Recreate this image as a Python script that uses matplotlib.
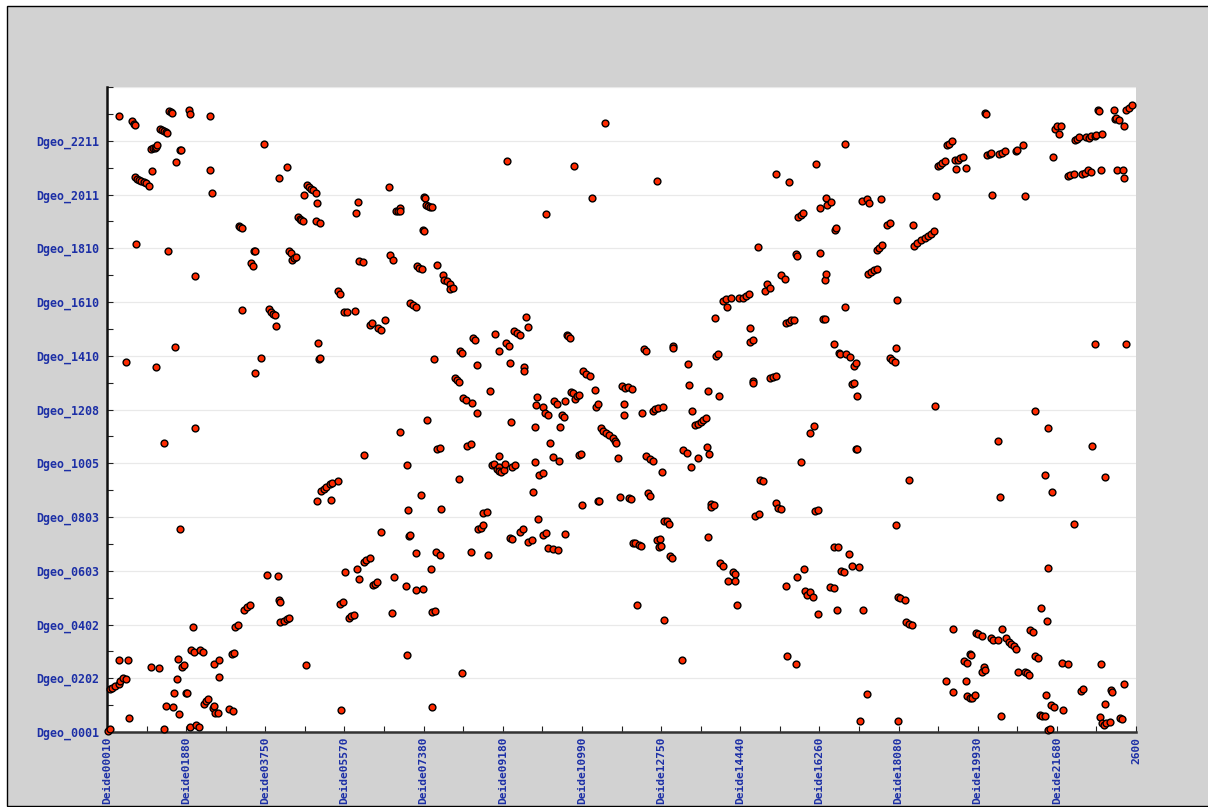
import numpy as np
import matplotlib
matplotlib.use('Agg')
import matplotlib.pyplot as plt
from matplotlib.patches import Rectangle

# gene rank on each axis
hits_top_left = [
    (12, 616), (25, 611), (27, 608), (28, 607), (62, 621), (64, 620), (65, 619), (82, 622), (83, 618), (103, 616),
    (53, 603), (55, 602), (57, 601), (59, 600), (60, 599), (44, 583), (46, 584), (48, 584), (49, 585), (50, 587),
    (73, 582), (74, 582), (69, 570), (45, 561), (103, 562), (28, 555), (30, 553), (32, 552), (34, 551), (37, 550),
    (39, 549), (42, 546), (105, 539), (157, 588), (180, 565), (172, 554), (200, 547), (202, 545), (204, 543),
    (206, 542), (209, 539), (197, 537), (210, 529), (191, 515), (193, 513), (194, 512), (196, 511), (209, 511),
    (213, 509), (132, 506), (133, 505), (135, 504), (147, 481), (148, 481), (144, 469), (146, 466), (182, 481),
    (184, 479), (185, 472), (187, 474), (189, 475), (29, 488), (61, 481), (88, 456), (231, 441), (233, 438),
    (251, 530), (249, 519), (282, 545), (289, 521), (291, 521), (293, 524), (293, 521), (317, 535), (318, 534),
    (319, 527), (321, 526), (323, 525), (325, 525), (316, 502), (317, 501), (330, 467), (283, 477), (286, 472),
    (252, 471), (256, 470), (310, 466), (312, 464), (315, 463), (336, 457), (337, 452), (340, 451), (343, 448),
    (343, 443), (303, 429), (306, 427), (309, 425),
]
hits_top_middle = [
    (346, 444), (498, 609), (400, 571), (467, 566), (550, 551), (485, 534), (439, 518), (669, 558), (682, 550),
    (651, 485), (674, 457), (678, 453), (660, 448), (658, 441), (663, 444), (642, 438), (639, 436), (636, 434),
    (632, 434), (624, 434), (619, 433), (616, 431),
]
hits_top_right = [
    (878, 619), (879, 618), (991, 622), (992, 621), (1007, 622), (1019, 622), (1022, 624), (1025, 627), (1008, 613),
    (1009, 614), (1012, 612), (1017, 606), (948, 603), (950, 606), (954, 606), (952, 598), (968, 592), (970, 593),
    (972, 595), (979, 595), (982, 594), (984, 596), (988, 596), (989, 597), (995, 598), (840, 587), (842, 588),
    (845, 591), (738, 588), (709, 568), (831, 566), (833, 567), (835, 569), (838, 571), (848, 572), (851, 572),
    (853, 574), (856, 575), (849, 563), (859, 564), (880, 577), (883, 578), (884, 579), (892, 578), (895, 579),
    (898, 581), (909, 581), (910, 582), (916, 587), (946, 575), (961, 556), (963, 557), (967, 558), (975, 558),
    (978, 559), (981, 562), (984, 560), (994, 562), (1010, 562), (1016, 562), (1017, 554), (829, 536), (885, 537),
    (918, 536), (719, 534), (724, 530), (720, 527), (713, 524), (755, 531), (760, 533), (762, 529), (774, 533),
    (691, 515), (694, 517), (696, 519), (728, 502), (729, 504), (780, 507), (783, 509), (806, 507), (807, 486),
    (810, 489), (814, 492), (818, 494), (821, 496), (824, 498), (827, 501), (770, 482), (772, 484), (775, 487),
    (689, 478), (690, 476), (713, 479), (719, 458), (718, 452), (761, 458), (764, 460), (767, 462), (770, 463),
    (790, 432),
]
hits_mid_left = [
    (135, 422), (162, 423), (164, 420), (166, 418), (168, 417), (169, 406), (237, 420), (240, 420), (248, 421),
    (263, 407), (265, 409), (271, 404), (274, 402), (278, 412), (68, 385), (211, 389), (212, 373), (213, 374),
    (154, 374), (148, 359), (19, 370), (49, 365), (327, 373), (88, 304), (57, 289), (320, 312), (293, 300),
    (257, 277), (300, 267), (330, 283), (333, 284), (214, 241), (217, 243), (219, 245), (223, 248), (225, 249),
    (231, 251), (210, 231), (224, 232), (314, 237), (301, 222), (334, 223),
]
hits_mid_middle = [
    (620, 425), (608, 414), (419, 415), (421, 405), (388, 398), (407, 401), (410, 399), (413, 397), (366, 394),
    (368, 392), (399, 389), (402, 386), (392, 381), (353, 381), (355, 379), (460, 397), (461, 396), (463, 394),
    (537, 383), (539, 381), (566, 386), (566, 384), (643, 404), (679, 409), (682, 410), (684, 412), (643, 390),
    (646, 392), (609, 376), (611, 378), (370, 367), (403, 369), (417, 365), (417, 361), (581, 368), (348, 354),
    (350, 352), (352, 350), (476, 361), (479, 358), (483, 356), (383, 341), (582, 347), (601, 341), (612, 336),
    (646, 351), (646, 349), (663, 354), (666, 355), (669, 356), (515, 346), (518, 344), (521, 345), (525, 343),
    (488, 342), (464, 340), (466, 339), (468, 333), (470, 336), (472, 337), (430, 335), (447, 331), (450, 328),
    (458, 331), (429, 327), (436, 325), (438, 319), (441, 317), (455, 317), (457, 315), (356, 334), (359, 332),
    (365, 329), (370, 319), (489, 325), (491, 328), (517, 328), (517, 317), (535, 319), (546, 321), (548, 323),
    (551, 324), (556, 325), (585, 321), (588, 307), (591, 308), (594, 310), (596, 312), (599, 314), (404, 310),
    (428, 305), (453, 305), (494, 304), (496, 301), (499, 299), (502, 297), (506, 294), (508, 291), (509, 289),
    (600, 285), (602, 278), (576, 282), (580, 279), (591, 274), (584, 265), (539, 276), (543, 273), (546, 271),
    (555, 260), (511, 274), (472, 277), (474, 278), (443, 289), (360, 286), (364, 288), (392, 276), (385, 267),
    (387, 268), (392, 265), (390, 263), (392, 261), (394, 260), (397, 262), (398, 268), (405, 265), (408, 267),
    (428, 270), (446, 275), (452, 271), (352, 253), (432, 257), (436, 259), (426, 240), (475, 227), (491, 231),
    (492, 231), (513, 235), (522, 234), (524, 233), (541, 239), (543, 236), (604, 228), (607, 227), (604, 225),
    (653, 252), (656, 251), (669, 229), (674, 223), (671, 224), (376, 219), (380, 220), (648, 216), (652, 218),
]
hits_mid_right = [
    (738, 425), (716, 413), (718, 413), (687, 412), (727, 388), (732, 379), (733, 378), (739, 378), (743, 375),
    (749, 369), (747, 366), (745, 348), (747, 349), (750, 336), (783, 374), (785, 372), (788, 370), (789, 384),
    (988, 388), (1019, 388), (828, 326), (928, 321), (941, 304), (891, 291), (985, 286), (707, 306), (703, 299),
    (749, 283), (750, 283), (694, 270), (802, 252), (938, 257), (998, 255), (945, 240), (893, 235), (708, 221),
    (711, 222),
]
hits_low_left = [
    (1, 1), (73, 203), (274, 200), (302, 196), (303, 197), (309, 179), (329, 180), (333, 177), (257, 170), (259, 172),
    (263, 174), (250, 163), (238, 160), (324, 163), (252, 153), (287, 155), (299, 146), (266, 147), (268, 148),
    (270, 150), (309, 142), (316, 143), (160, 157), (171, 156), (172, 132), (173, 130), (233, 128), (236, 130),
    (137, 122), (140, 125), (143, 127), (325, 120), (328, 121), (242, 114), (244, 116), (247, 117), (285, 119),
    (173, 110), (177, 111), (180, 113), (182, 114), (128, 105), (131, 107), (86, 105), (84, 82), (87, 80), (93, 82),
    (96, 80), (125, 78), (127, 79), (300, 77), (199, 67), (12, 72), (21, 72), (44, 65), (52, 64), (71, 73), (75, 65),
    (77, 67), (107, 68), (112, 72), (70, 53), (112, 55), (3, 43), (5, 44), (8, 46), (12, 48), (13, 51), (16, 54),
    (19, 53), (67, 39), (79, 39), (80, 39), (97, 28), (99, 31), (101, 33), (59, 26), (66, 25), (72, 18), (22, 14),
    (106, 24), (107, 26), (108, 19), (111, 19), (122, 23), (126, 21), (234, 22), (325, 25), (3, 3), (57, 3), (83, 5),
    (89, 7), (92, 5),
]
hits_low_middle = [
    (371, 203), (374, 204), (376, 207), (403, 194), (405, 193), (413, 200), (416, 203), (431, 213), (421, 190),
    (425, 192), (436, 197), (439, 199), (458, 198), (364, 180), (381, 177), (441, 184), (446, 183), (451, 182),
    (526, 189), (528, 189), (532, 187), (534, 186), (550, 192), (553, 193), (552, 185), (554, 186), (557, 211),
    (560, 211), (562, 208), (563, 176), (565, 174), (601, 195), (613, 169), (616, 166), (626, 160), (628, 158),
    (621, 151), (628, 151), (679, 146), (630, 127), (530, 127), (557, 112), (575, 72), (680, 76), (355, 59),
]
hits_low_right = [
    (789, 207), (967, 208), (727, 185), (731, 185), (742, 178), (697, 163), (690, 155), (941, 164), (734, 161),
    (737, 160), (745, 166), (752, 165), (723, 145), (727, 144), (698, 141), (703, 140), (700, 137), (706, 135),
    (711, 118), (730, 122), (756, 122), (791, 135), (793, 134), (798, 132), (799, 110), (802, 108), (805, 107),
    (846, 103), (869, 99), (871, 98), (875, 96), (884, 94), (886, 92), (891, 92), (895, 103), (899, 94), (902, 90),
    (904, 88), (907, 86), (909, 83), (923, 102), (926, 100), (934, 124), (940, 111), (863, 78), (864, 77), (857, 71),
    (860, 69), (875, 60), (877, 65), (878, 62), (928, 76), (931, 74), (955, 69), (961, 68), (994, 68), (689, 68),
    (911, 60), (918, 60), (920, 59), (922, 57), (839, 51), (859, 51), (760, 38), (846, 40), (860, 36), (863, 34),
    (865, 34), (868, 37), (939, 37), (944, 27), (947, 25), (956, 22), (974, 41), (976, 43), (1004, 42), (1005, 40),
    (1017, 48), (998, 28), (894, 16), (933, 17), (935, 16), (938, 16), (993, 15), (753, 11), (791, 11), (1013, 14),
    (1015, 13), (995, 9), (997, 7), (999, 9), (1003, 10), (941, 2), (943, 3),
]

x_labels = ['Deide00010', 'Deide01880', 'Deide03750', 'Deide05570', 'Deide07380', 'Deide09180', 'Deide10990',
            'Deide12750', 'Deide14440', 'Deide16260', 'Deide18080', 'Deide19930', 'Deide21680', '2600']
y_labels = ['Dgeo_0001', 'Dgeo_0202', 'Dgeo_0402', 'Dgeo_0603', 'Dgeo_0803', 'Dgeo_1005', 'Dgeo_1208',
            'Dgeo_1410', 'Dgeo_1610', 'Dgeo_1810', 'Dgeo_2011', 'Dgeo_2211']

all_hits = np.array(hits_top_left + hits_top_middle + hits_top_right + hits_mid_left + hits_mid_middle
                    + hits_mid_right + hits_low_left + hits_low_middle + hits_low_right)
# markers stack left to right
all_hits = all_hits[np.argsort(all_hits[:, 0], kind='stable')]

label_color = '#1c2fa6'
W, H = 1208, 807
x_max, y_max = 1029, 645

fig = plt.figure(figsize=(W / 100, H / 100), dpi=100, facecolor='white')
fig.add_artist(Rectangle((7 / W, 1 - 805.5 / H), 1.01 - 7 / W, 799.5 / H, transform=fig.transFigure,
                         facecolor='#d2d2d2', edgecolor='black', linewidth=1, zorder=-1))

ax = fig.add_axes([107 / W, 1 - 732 / H, x_max / W, y_max / H], facecolor='white')
ax.set_xlim(0, x_max)
ax.set_ylim(0, y_max)

x_step = x_max / 13
y_step = y_max / 12
ax.set_xticks(np.arange(14) * x_step)
ax.set_xticks((np.arange(13) + 0.5) * x_step, minor=True)
ax.set_yticks(np.arange(13) * y_step)
ax.set_yticks((np.arange(12) + 0.5) * y_step, minor=True)
ax.set_xticklabels(x_labels)
ax.set_yticklabels(y_labels + [''])

ax.grid(axis='y', which='major', color='#e9e9e9', linewidth=0.9)
ax.set_axisbelow(True)
ax.tick_params(axis='both', which='both', direction='in', color='#222222', width=0.8)
ax.tick_params(axis='y', which='both', length=4, pad=5.5, labelcolor=label_color)
ax.tick_params(axis='x', which='both', length=4, pad=3.5, labelcolor=label_color)
for lab in ax.get_yticklabels():
    lab.set_fontfamily('DejaVu Sans Mono')
    lab.set_fontweight('bold')
    lab.set_fontsize(8.4)
for lab in ax.get_xticklabels():
    lab.set_fontfamily('DejaVu Sans Mono')
    lab.set_fontweight('bold')
    lab.set_fontsize(8.1)
    lab.set_rotation(90)

for side in ['top', 'right']:
    ax.spines[side].set_visible(False)
ax.spines['left'].set_linewidth(1.8)
ax.spines['left'].set_color('#111111')
ax.spines['bottom'].set_linewidth(1.8)
ax.spines['bottom'].set_color('#333333')

ax.scatter(all_hits[:, 0], all_hits[:, 1], s=24, facecolor='#ff2a00', edgecolor='black', linewidth=1.0,
           clip_on=False, zorder=3)

fig.savefig('out.png', dpi=100)
